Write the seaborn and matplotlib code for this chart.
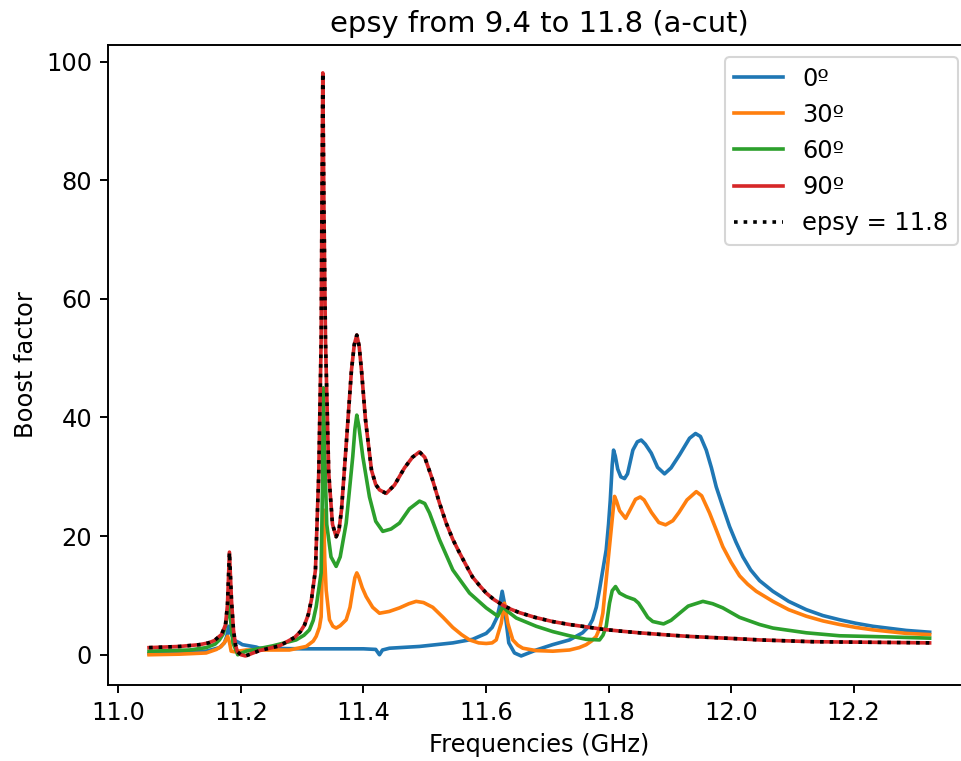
import matplotlib
matplotlib.use("Agg")
import matplotlib.pyplot as plt
import seaborn as sns
import numpy as np

# ---------------- data ----------------
pts_0 = [(11.050,0.2),(11.100,0.4),(11.1432,0.6),(11.1649,1.2),(11.1730,2.0),(11.1768,3.1),(11.1801,4.8),
         (11.1835,3.6),(11.1900,2.4),(11.1976,2.0),(11.2024,1.7),(11.2248,1.3),(11.2302,1.1),(11.300,1.0),
         (11.3608,1.0),(11.400,1.0),(11.4200,0.9),(11.4261,0.0),(11.4310,0.8),(11.4424,1.1),(11.4914,1.4),
         (11.5458,2.0),(11.5780,2.6),(11.6003,3.6),(11.6100,4.6),(11.6180,6.3),(11.6220,8.1),(11.6264,10.7),
         (11.6295,9.0),(11.6318,6.5),(11.6372,2.0),(11.6465,0.3),(11.6574,-0.2),(11.6820,0.8),(11.7086,1.7),
         (11.7363,2.5),(11.7576,3.7),(11.7680,4.8),(11.7739,5.9),(11.7800,8.0),(11.7853,11.0),(11.7910,14.5),
         (11.7962,17.7),(11.8000,22.0),(11.8028,26.0),(11.8060,32.0),(11.8082,34.5),(11.8110,33.5),(11.8150,31.3),
         (11.8200,30.0),(11.8261,29.7),(11.8310,30.5),(11.8397,34.5),(11.8470,35.9),(11.8534,36.2),(11.8600,35.5),
         (11.8697,34.0),(11.8800,31.6),(11.8914,30.5),(11.9020,31.5),(11.9159,33.7),(11.9322,36.5),(11.9420,37.3),
         (11.9500,36.8),(11.9595,34.5),(11.9680,31.5),(11.9758,28.3),(11.9870,24.8),(11.9976,21.6),(12.0080,19.0),
         (12.0193,16.5),(12.0320,14.3),(12.0465,12.5),(12.0682,10.7),(12.0940,9.0),(12.1228,7.6),(12.1500,6.6),
         (12.1771,5.9),(12.2040,5.3),(12.2315,4.8),(12.2860,4.1),(12.3241,3.8)]

pts_30 = [(11.050,0.0),(11.100,0.1),(11.1432,0.3),(11.1600,0.9),(11.1677,1.4),(11.1740,2.2),(11.1784,3.1),
          (11.1815,2.0),(11.1840,0.6),(11.1894,0.5),(11.2085,0.8),(11.2792,0.8),(11.3065,1.4),(11.3180,2.3),
          (11.3228,3.1),(11.3280,4.6),(11.3309,6.4),(11.3336,18.0),(11.3350,24.4),(11.3368,16.0),(11.3391,10.9),
          (11.3445,5.9),(11.3500,4.8),(11.3554,4.5),(11.3620,4.9),(11.3718,5.9),(11.3780,8.0),(11.3825,10.9),
          (11.3860,13.0),(11.3891,13.8),(11.3920,13.2),(11.3980,11.3),(11.4044,9.8),(11.4150,8.0),(11.4261,7.0),
          (11.4420,7.3),(11.4588,7.9),(11.4740,8.6),(11.4860,9.0),(11.4980,8.8),(11.5131,8.0),(11.5300,6.3),
          (11.5458,4.6),(11.5600,3.4),(11.5731,2.5),(11.5880,2.0),(11.6003,1.9),(11.6100,2.0),(11.6167,2.5),
          (11.6248,5.3),(11.6302,8.7),(11.6356,5.3),(11.6437,2.5),(11.6520,1.6),(11.6601,1.1),(11.6820,0.7),
          (11.7091,0.6),(11.7363,0.8),(11.7520,1.2),(11.7636,1.7),(11.7720,2.3),(11.7799,3.1),(11.7860,4.6),
          (11.7907,7.0),(11.7988,15.4),(11.8070,23.9),(11.8098,26.7),(11.8130,25.9),(11.8180,24.3),(11.8278,23.0),
          (11.8340,24.2),(11.8440,26.2),(11.8518,26.6),(11.8580,26.1),(11.8700,24.0),(11.8820,22.3),(11.8931,21.9),
          (11.9050,22.6),(11.9150,24.0),(11.9280,26.1),(11.9432,27.5),(11.9520,26.8),(11.9649,23.9),(11.9760,21.0),
          (11.9866,18.2),(12.0000,15.6),(12.0139,13.3),(12.0270,11.9),(12.0411,10.7),(12.0682,9.0),(12.0940,7.6),
          (12.1228,6.5),(12.1500,5.7),(12.1771,5.1),(12.2040,4.6),(12.2315,4.2),(12.2860,3.6),(12.3241,3.4)]

pts_60 = [(11.050,0.6),(11.1159,0.8),(11.1432,1.2),(11.1580,1.8),(11.1649,2.5),(11.1710,3.5),(11.1747,4.8),
          (11.1780,7.0),(11.1801,9.5),(11.1830,6.0),(11.1870,2.0),(11.1948,0.0),(11.2085,0.6),(11.2519,1.5),
          (11.2901,2.5),(11.3030,3.3),(11.3118,4.2),(11.3180,5.8),(11.3228,8.1),(11.3309,13.8),(11.3330,28.0),
          (11.3345,45.0),(11.3365,35.0),(11.3400,22.0),(11.3470,16.5),(11.3554,14.9),(11.3620,16.5),(11.3718,22.2),
          (11.3825,33.4),(11.3860,38.0),(11.3891,40.4),(11.3925,38.5),(11.3989,33.4),(11.4098,26.6),(11.4200,22.5),
          (11.4315,20.8),(11.4450,21.2),(11.4588,22.2),(11.4750,24.6),(11.4914,25.9),(11.5000,25.5),(11.5078,23.9),
          (11.5241,19.4),(11.5458,14.3),(11.5731,10.4),(11.6003,7.9),(11.6193,6.5),(11.6274,8.1),(11.6356,7.3),
          (11.6493,6.2),(11.6820,4.8),(11.7091,3.9),(11.7363,3.2),(11.7636,2.6),(11.7853,2.5),(11.7910,3.3),
          (11.7962,4.8),(11.8016,8.7),(11.8060,10.8),(11.8114,11.5),(11.8180,10.4),(11.8289,9.8),(11.8424,9.3),
          (11.8490,8.7),(11.8560,7.6),(11.8640,6.3),(11.8723,5.6),(11.8898,5.2),(11.9020,5.8),(11.9159,7.0),
          (11.9300,8.2),(11.9540,9.0),(11.9700,8.6),(11.9866,7.9),(12.0139,6.3),(12.0465,5.1),(12.0682,4.5),
          (12.1228,3.7),(12.1771,3.2),(12.2588,3.0),(12.3241,2.8)]

pts_90 = [(11.050,1.2),(11.100,1.4),(11.1322,1.7),(11.1470,2.0),(11.1567,2.4),(11.1682,3.4),(11.1747,5.0),
          (11.1780,8.4),(11.1812,17.3),(11.1845,9.3),(11.1878,4.2),(11.1910,1.7),(11.1943,0.5),(11.2000,0.0),
          (11.2073,-0.2),(11.2302,0.7),(11.2629,1.5),(11.2873,2.9),(11.2970,3.9),(11.3037,5.0),(11.3100,6.8),
          (11.3151,9.3),(11.3216,14.3),(11.3270,30.6),(11.3309,53.0),(11.3325,81.0),(11.3336,98.1),(11.3355,75.0),
          (11.3380,53.0),(11.3433,30.6),(11.3494,22.0),(11.3554,19.9),(11.3600,21.0),(11.3641,24.4),(11.3722,36.0),
          (11.3804,48.0),(11.3850,52.3),(11.3891,53.9),(11.3930,52.0),(11.3967,48.0),(11.4033,39.6),(11.4131,31.1),
          (11.4200,28.7),(11.4261,27.8),(11.4371,27.2),(11.4506,28.6),(11.4669,31.5),(11.4800,33.3),(11.4914,34.2),
          (11.5000,33.3),(11.5127,29.5),(11.5240,25.6),(11.5350,22.2),(11.5460,19.4),(11.5567,17.2),(11.5680,15.0),
          (11.5780,13.1),(11.5900,11.6),(11.6003,10.4),(11.6130,9.3),(11.6269,8.4),(11.6400,7.7),(11.6547,7.1),
          (11.6800,6.3),(11.7086,5.6),(11.7360,5.1),(11.7636,4.7),(11.7900,4.3),(11.8180,4.0),(11.8500,3.7),
          (11.8880,3.4),(11.9300,3.1),(11.9698,2.9),(12.0100,2.7),(12.0465,2.5),(12.0900,2.35),(12.1331,2.2),
          (12.1800,2.15),(12.2315,2.1),(12.2800,2.05),(12.3241,2.0)]

# epsy = 11.8 curve coincides with the 90º curve
pts_eps = pts_90

labels = ["0º", "30º", "60º", "90º", "epsy = 11.8"]
colors = ["#1f77b4", "#ff7f0e", "#2ca02c", "#d62728", "black"]

# ---------------- plot ----------------
s = 1.16
plt.rcParams.update({
    "font.size": 10 * s,
    "lines.linewidth": 1.5 * s,
    "axes.linewidth": 0.8 * s,
    "xtick.major.size": 3.5 * s, "ytick.major.size": 3.5 * s,
    "xtick.major.width": 0.8 * s, "ytick.major.width": 0.8 * s,
    "legend.fontsize": 10 * s,
})

fig = plt.figure(figsize=(961 / 150, 761 / 150), dpi=150)
# the reference is cropped on the right: the axes box runs slightly past the image edge
ax = fig.add_axes([108 / 961, 1 - 685 / 761, (970 - 108) / 961, (685 - 45) / 761])

series = [pts_0, pts_30, pts_60, pts_90, pts_eps]
for pts, lab, col in zip(series, labels, colors):
    fx = np.array([p[0] for p in pts])
    by = np.array([p[1] for p in pts])
    ls = ":" if lab.startswith("epsy") else "-"
    sns.lineplot(x=fx, y=by, ax=ax, color=col, label=lab,
                 linestyle=ls, linewidth=1.5 * s, sort=False, estimator=None)

ax.set_xlim(10.983, 12.390)
ax.set_ylim(-5.1, 102.8)
ax.set_xticks([11.0, 11.2, 11.4, 11.6, 11.8, 12.0, 12.2])
ax.set_yticks([0, 20, 40, 60, 80, 100])
ax.set_xlabel("Frequencies (GHz)")
ax.set_ylabel("Boost factor")
ax.set_title("epsy from 9.4 to 11.8 (a-cut)", fontsize=12 * s)
ax.legend(loc="upper right")

fig.savefig("out.png", dpi=150)
